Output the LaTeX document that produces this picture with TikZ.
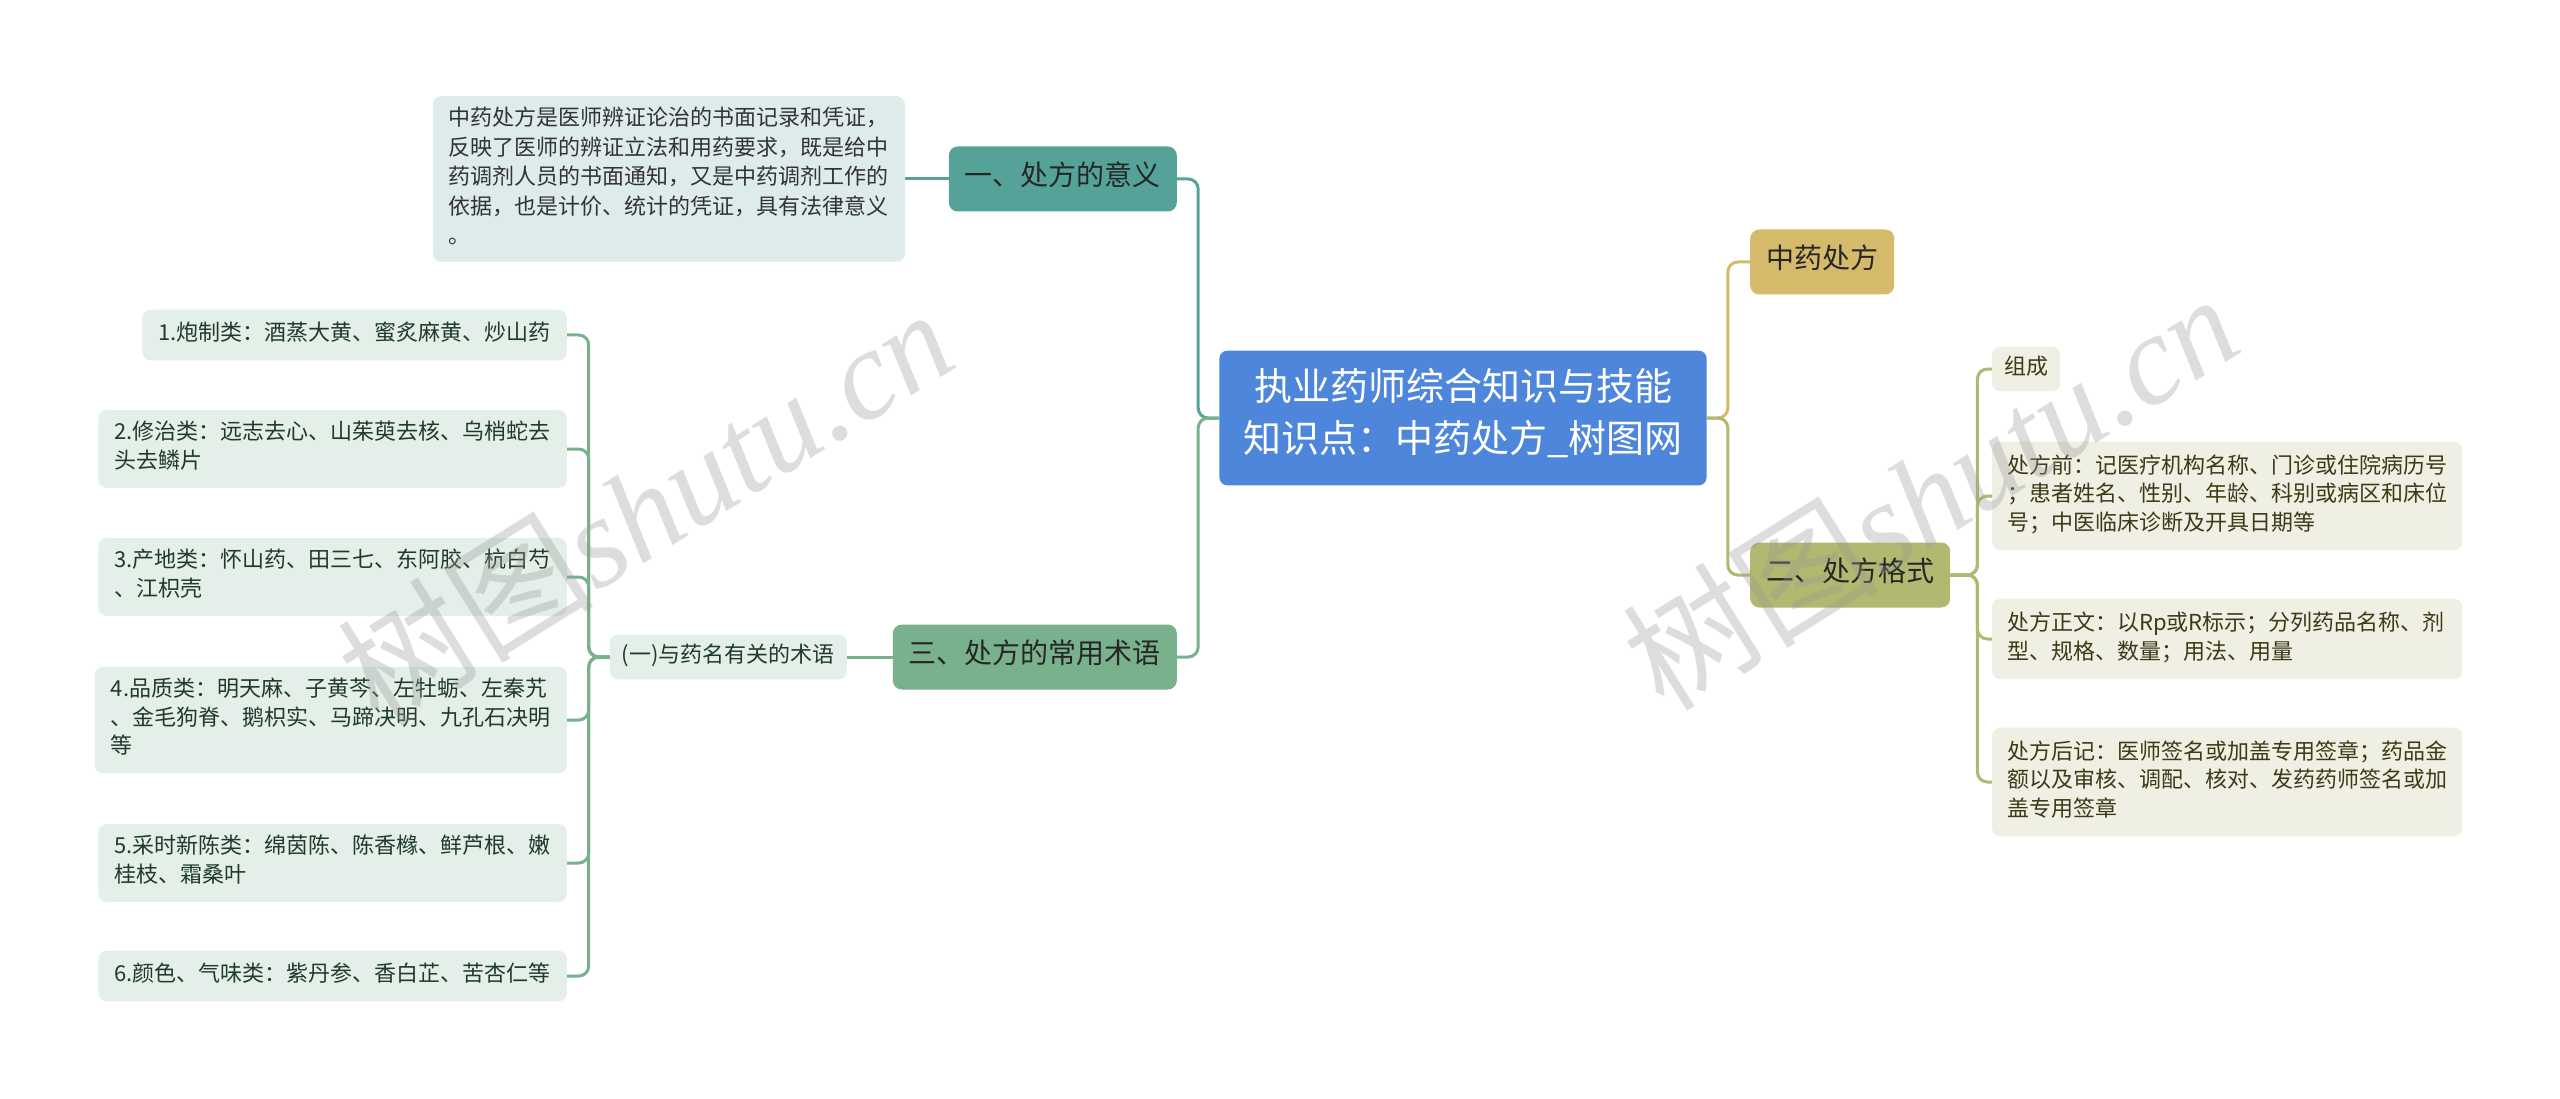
\documentclass[tikz,border=0pt]{standalone}
\usepackage{fontspec}
\setmainfont{Noto Sans CJK SC}
\newfontfamily\wmlatin{Liberation Serif}

\definecolor{titleblue}{HTML}{4E86DB}
\definecolor{tealnode}{HTML}{55A398}
\definecolor{descfill}{HTML}{DDEBEA}
\definecolor{termnode}{HTML}{79B18C}
\definecolor{leaffill}{HTML}{E3EFE8}
\definecolor{leaftext}{HTML}{1F3B29}
\definecolor{goldnode}{HTML}{D4BA6A}
\definecolor{olivenode}{HTML}{B1B86F}
\definecolor{olivefill}{HTML}{EFEFE3}
\definecolor{olivetext}{HTML}{3B3B17}

\tikzset{
  titlebox/.style={fill=titleblue, text=white, rounded corners=8pt, align=center,
    font=\fontsize{38}{52}\selectfont, inner xsep=24pt, inner ysep=17.5pt,
    execute at begin node=\strut, execute at end node=\strut},
  branch/.style={rounded corners=9pt, text=black!85, font=\fontsize{28}{34}\selectfont,
    inner xsep=16pt, inner ysep=15.5pt, execute at begin node=\strut},
  greenleaf/.style={fill=leaffill, text=leaftext, rounded corners=8pt, align=left,
    font=\fontsize{22}{28.5}\selectfont, inner xsep=16pt, inner ysep=11pt, anchor=east,
    execute at begin node=\strut, execute at end node=\strut},
  oliveleaf/.style={fill=olivefill, text=olivetext, rounded corners=8pt, align=left,
    font=\fontsize{22}{28.6}\selectfont, text width=440pt, inner xsep=15pt, inner ysep=11.5pt,
    anchor=west, execute at begin node=\strut, execute at end node=\strut},
  tealline/.style={draw=tealnode, line width=3pt, rounded corners=10pt},
  greenline/.style={draw=termnode, line width=3pt, rounded corners=10pt},
  goldline/.style={draw=goldnode, line width=3pt, rounded corners=10pt},
  oliveline/.style={draw=olivenode, line width=3pt, rounded corners=10pt},
  watermark/.style={text=black!40, opacity=0.33, font=\fontsize{128}{134}\selectfont, rotate=32}
}

\begin{document}
\begin{tikzpicture}[x=1pt,y=-1pt]
			%%%%% START %%%%%
			\useasboundingbox (0,0) rectangle (2560,1099);
			\fill[white] (0,0) rectangle (2560,1099);
			
			\node[titlebox] (title) at (1463,418) {执业药师综合知识与技能\\知识点：中药处方\_树图网};
			
			\node[branch, fill=tealnode, anchor=east] (meaning) at (1177,179) {一、处方的意义};
			\node[branch, fill=termnode, anchor=east] (terms) at (1177,657) {三、处方的常用术语};
			\node[branch, fill=goldnode, anchor=west] (rx) at (1750,262) {中药处方};
			\node[branch, fill=olivenode, anchor=west] (format) at (1750,575) {二、处方格式};
			
			\node[fill=descfill, text=black!80, rounded corners=8pt, align=left, text width=440pt,
			  font=\fontsize{22}{29.5}\selectfont, inner xsep=16pt, inner ysep=9pt, anchor=east,
			  execute at begin node=\strut, execute at end node=\strut] (desc) at (905,179)
			  {中药处方是医师辨证论治的书面记录和凭证，\\反映了医师的辨证立法和用药要求，既是给中\\药调剂人员的书面通知，又是中药调剂工作的\\依据，也是计价、统计的凭证，具有法律意义\\。};
			
			\node[greenleaf, inner xsep=12pt, inner ysep=8pt] (kind) at (847,657) {(一)与药名有关的术语};
			
			\node[greenleaf] (l1) at (567,335) {1.炮制类：酒蒸大黄、蜜炙麻黄、炒山药};
			\node[greenleaf] (l2) at (567,449) {2.修治类：远志去心、山茱萸去核、乌梢蛇去\\头去鳞片};
			\node[greenleaf] (l3) at (567,577) {3.产地类：怀山药、田三七、东阿胶、杭白芍\\、江枳壳};
			\node[greenleaf] (l4) at (567,720) {4.品质类：明天麻、子黄芩、左牡蛎、左秦艽\\、金毛狗脊、鹅枳实、马蹄决明、九孔石决明\\等};
			\node[greenleaf] (l5) at (567,863) {5.采时新陈类：绵茵陈、陈香橼、鲜芦根、嫩\\桂枝、霜桑叶};
			\node[greenleaf] (l6) at (567,976) {6.颜色、气味类：紫丹参、香白芷、苦杏仁等};
			
			\node[oliveleaf, text width={}, inner xsep=12pt, inner ysep=8pt] (compose) at (1992,369) {组成};
			\node[oliveleaf] (before) at (1992,496) {处方前：记医疗机构名称、门诊或住院病历号\\；患者姓名、性别、年龄、科别或病区和床位\\号；中医临床诊断及开具日期等};
			\node[oliveleaf] (body) at (1992,639) {处方正文：以Rp或R标示；分列药品名称、剂\\型、规格、数量；用法、用量};
			\node[oliveleaf] (after) at (1992,782) {处方后记：医师签名或加盖专用签章；药品金\\额以及审核、调配、核对、发药药师签名或加\\盖专用签章};
			
			\draw[tealline] (title.west) -- ++(-21,0) |- (meaning.east);
			\draw[greenline] (title.west) -- ++(-21,0) |- (terms.east);
			\draw[goldline] (title.east) -- ++(21,0) |- (rx.west);
			\draw[oliveline] (title.east) -- ++(21,0) |- (format.west);
			
			\draw[tealline] (meaning.west) -- (desc.east);
			\draw[greenline] (terms.west) -- (kind.east);
			\foreach \leaf in {l1,l2,l3,l4,l5,l6}
			  \draw[greenline] (kind.west) -- ++(-21,0) |- (\leaf.east);
			\foreach \leaf in {compose,before,body,after}
			  \draw[oliveline] (format.east) -- ++(27,0) |- (\leaf.west);
			
			\node[watermark] (wm1) at (645,505) {树图{\wmlatin\itshape shutu.cn}};
			\node[watermark] (wm2) at (1930,490) {树图{\wmlatin\itshape shutu.cn}};
			%%%%% END %%%%%
\end{tikzpicture}
\end{document}
